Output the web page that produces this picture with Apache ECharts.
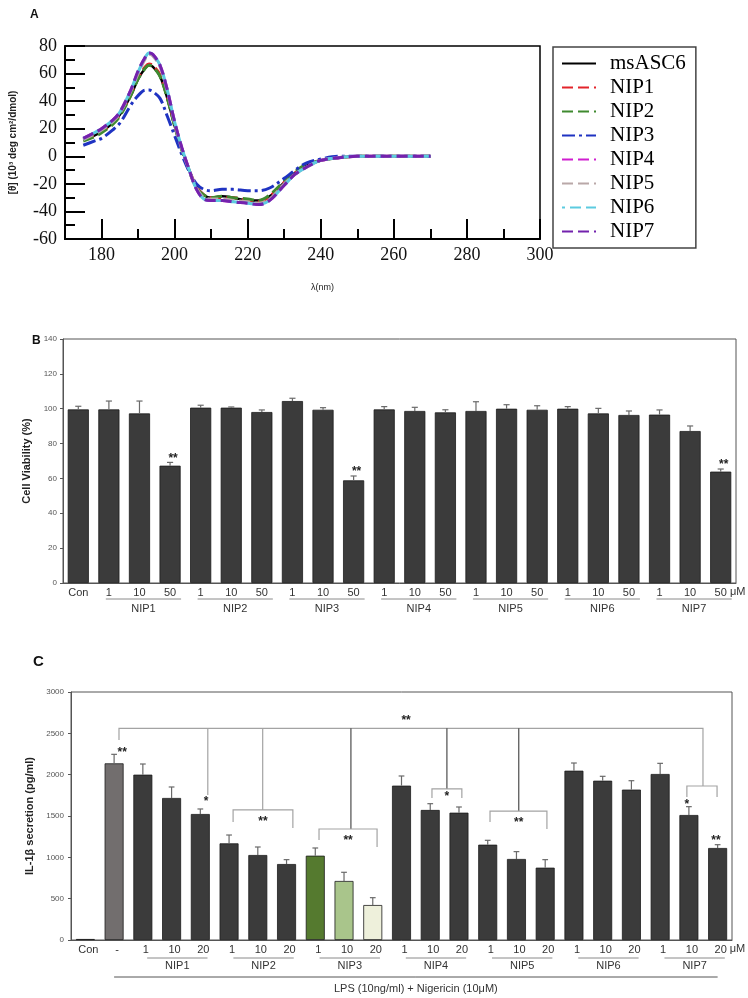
<!DOCTYPE html>
<html>
<head>
<meta charset="utf-8">
<script src="https://cdn.jsdelivr.net/npm/echarts@6/dist/echarts.min.js"></script>
<style>
html, body { margin: 0; padding: 0; background: #fff; }
#main { width: 748px; height: 998px; }
</style>
</head>
<body>
<div id="main"></div>
<script>
// ---------- A: CD spectra ----------
var cdWavelength = [175,178,180,183,185,188,190,192,193,194,196,198,200,202,204,206,208,210,213,216,220,223,226,230,233,236,240,245,250,260,270];
var cdMsASC6 = [12,15,18,24,30,44,56,64,66,65,58,42,22,5,-10,-22,-28,-30,-29,-30,-32,-32,-29,-19,-12,-7,-3,-1,0,0,0];
var cdNIP1   = [12,15,18,24,30,45,57,65,67,66,59,43,23,5,-10,-22,-28,-30,-30,-30,-32,-33,-29,-19,-12,-7,-3,-1,0,0,0];
var cdNIP2   = [11,14,17,23,29,44,56,64,66,65,58,42,22,4,-11,-23,-28,-30,-29,-30,-31,-32,-28,-18,-11,-6,-3,-1,0,0,0];
var cdNIP3   = [8,11,13,19,24,37,44,48,48,47,42,29,15,1,-11,-20,-24,-25,-24,-24,-25,-25,-23,-16,-10,-5,-2,0,0,0,0];
var cdNIP4   = [13,17,20,26,32,48,61,72,75,74,66,48,25,6,-10,-24,-31,-32,-32,-33,-34,-35,-32,-21,-13,-8,-3,-1,0,0,0];
var cdNIP5   = [12,16,19,25,31,47,60,71,74,73,65,47,24,5,-10,-23,-30,-31,-31,-32,-33,-34,-31,-20,-13,-8,-3,-1,0,0,0];
var cdNIP6   = [13,17,20,26,32,48,61,72,75,74,66,48,25,6,-10,-24,-31,-32,-32,-33,-34,-35,-32,-21,-13,-8,-3,-1,0,0,0];
var cdNIP7   = [13,17,20,26,32,48,62,72,75,74,66,48,25,6,-10,-24,-31,-32,-32,-33,-34,-35,-32,-21,-13,-8,-3,-1,0,0,0];
var cdNames  = ['msASC6','NIP1','NIP2','NIP3','NIP4','NIP5','NIP6','NIP7'];
var cdXTicks = [180,200,220,240,260,280,300];
var cdXMinor = [190,210,230,250,270,290];

// ---------- B: cell viability ----------
var cvLabels = ['Con','1','10','50','1','10','50','1','10','50','1','10','50','1','10','50','1','10','50','1','10','50'];
var cvValues = [99.6,99.6,97.3,67.3,100.6,100.6,98.1,104.4,99.4,58.9,99.6,98.7,97.9,98.7,100,99.4,100,97.3,96.4,96.6,87.2,63.9];
var cvErrors = [1.8,4.8,7.1,1.9,1.4,0.4,1.2,1.6,1.2,2.5,1.6,2.1,1.5,5.3,2.3,2.3,1.2,2.9,2.3,2.7,2.9,1.5];
var cvStars  = ['','','','**','','','','','','**','','','','','','','','','','','','**'];
var cvGroupNames = ['NIP1','NIP2','NIP3','NIP4','NIP5','NIP6','NIP7'];
var cvGroupFirst = [1,4,7,10,13,16,19];
var cvGroupLast  = [3,6,9,12,15,18,21];

// ---------- C: IL-1beta secretion ----------
var ilLabels = ['Con','-','1','10','20','1','10','20','1','10','20','1','10','20','1','10','20','1','10','20','1','10','20'];
var ilValues = [12,2137,2000,1718,1524,1169,1028,919,1020,714,423,1867,1573,1540,1153,980,875,2048,1927,1819,2008,1512,1113];
var ilErrors = [0,109,129,133,61,101,97,53,93,105,89,117,76,69,53,89,97,93,53,108,129,101,40];
var ilGroupNames = ['NIP1','NIP2','NIP3','NIP4','NIP5','NIP6','NIP7'];
var ilGroupFirst = [2,5,8,11,14,17,20];
var ilGroupLast  = [4,7,10,13,16,19,22];
var ilTreatment = 'LPS (10ng/ml) + Nigericin (10μM)';
// comparison brackets: polylines of [category position, value]
var ilBrackets = [
	[[1.17,2420],[1.17,2560],[21.49,2560],[21.49,1863]],
	[[4.26,2560],[4.26,1754]],
	[[6.17,2560],[6.17,1573]],
	[[5.14,1427],[5.14,1573],[7.22,1573],[7.22,1355]],
	[[9.24,2560],[9.24,1343]],
	[[8.13,1210],[8.13,1343],[10.15,1343],[10.15,1125]],
	[[12.58,2560],[12.58,1827]],
	[[12.06,1718],[12.06,1827],[13.1,1827],[13.1,1718]],
	[[15.08,2560],[15.08,1560]],
	[[14.08,1427],[14.08,1560],[16.06,1560],[16.06,1343]],
	[[20.93,1730],[20.93,1863],[21.98,1863],[21.98,1730]]
];
var ilBracketDark = [false,false,false,false,true,false,true,false,true,false,false];
var ilStars = [
	[1.28,2298,'**'],[4.2,1705,'*'],[6.18,1464,'**'],[9.14,1234,'**'],[11.16,2685,'**'],
	[12.58,1766,'*'],[15.08,1452,'**'],[20.93,1669,'*'],[21.94,1234,'**']
];

// colours
var cdColors = ['#000000','#e3242b','#3f8a2f','#1f33c2','#d01ed0','#b9a8a8','#5ccbe0','#7322ad'];
var barGrey = '#3b3b3b';
var ilBarColors = {1: '#726e6e', 8: '#557a2f', 9: '#a9c58b', 10: '#eef0db'};

var sans = 'Liberation Sans, Arial, sans-serif';
var serif = 'Liberation Serif, Times New Roman, serif';

var chart = echarts.init(document.getElementById('main'));

// x position inside a category band (fractional positions allowed)
function catX(api, x, y)
{
	var i = Math.floor(x);
	var p = api.coord([i, y]);
	var bw = api.size([1, 0])[0];
	return [p[0] + (x - i) * bw, p[1]];
}

function errorBars(values, errors)
{
	return function(params, api)
	{
		var i = params.dataIndex;
		if(!errors[i])
			return null;
		var a = api.coord([i, values[i]]);
		var b = api.coord([i, values[i] + errors[i]]);
		var half = api.size([1, 0])[0] * 0.1;
		var st = { stroke: '#6a6a6a', lineWidth: 1.2 };
		return { type: 'group', children: [
			{ type: 'line', shape: { x1: a[0], y1: a[1], x2: b[0], y2: b[1] }, style: st },
			{ type: 'line', shape: { x1: b[0] - half, y1: b[1], x2: b[0] + half, y2: b[1] }, style: st }
		]};
	};
}

function groupLabels(names, first, last, opt)
{
	return function(params, api)
	{
		var g = params.dataIndex;
		var bw = api.size([1, 0])[0];
		var p0 = api.coord([first[g], 0]);
		var p1 = api.coord([last[g], 0]);
		var x1 = p0[0] + opt.from * bw, x2 = p1[0] + opt.to * bw;
		var y0 = p0[1];
		var kids = [
			{ type: 'line', shape: { x1: x1, y1: y0 + opt.lineY, x2: x2, y2: y0 + opt.lineY }, style: { stroke: '#8a8a8a', lineWidth: 1 } },
			{ type: 'text', style: { x: (x1 + x2) / 2, y: y0 + opt.nameY, text: names[g], fill: '#333', font: '11px ' + sans, align: 'center', verticalAlign: 'middle' } }
		];
		if(g === names.length - 1)
			kids.push({ type: 'text', style: { x: p1[0] + opt.unitX * bw, y: y0 + opt.unitY, text: 'μM', fill: '#333', font: '11px ' + sans, align: 'left', verticalAlign: 'middle' } });
		return { type: 'group', children: kids };
	};
}

var series = [];

for(var s = 0; s < cdNames.length; s++)
{
	var vals = [cdMsASC6, cdNIP1, cdNIP2, cdNIP3, cdNIP4, cdNIP5, cdNIP6, cdNIP7][s];
	var pts = [];
	for(var k = 0; k < cdWavelength.length; k++)
		pts.push([cdWavelength[k], vals[k]]);
	var lineType = (s === 0 ? 'solid' : (s === 3 ? [13, 4, 3, 4] : [11, 5]));
	series.push({
		type: 'line', name: cdNames[s], xAxisIndex: 0, yAxisIndex: 0,
		data: pts, smooth: 0.35, symbol: 'none', silent: true,
		lineStyle: { color: cdColors[s], width: (s === 0 ? 2.5 : 3), type: lineType, dashOffset: (s === 6 ? 8 : 0) },
		itemStyle: { color: cdColors[s] },
		z: 2 + s
	});
}

// B
series.push({
	type: 'bar', xAxisIndex: 2, yAxisIndex: 1, data: cvValues, barWidth: '69%', silent: true,
	itemStyle: { color: barGrey, borderColor: '#1c1c1c', borderWidth: 0.8 }
});
series.push({
	type: 'custom', xAxisIndex: 2, yAxisIndex: 1, silent: true,
	data: cvValues.map(function(v, i) { return [i, v + cvErrors[i]]; }),
	encode: { x: 0, y: 1 }, renderItem: errorBars(cvValues, cvErrors), z: 3
});
series.push({
	type: 'custom', xAxisIndex: 2, yAxisIndex: 1, silent: true,
	data: cvValues.map(function(v, i) { return [i, v + cvErrors[i]]; }),
	encode: { x: 0, y: 1 }, z: 4,
	renderItem: function(params, api)
	{
		var i = params.dataIndex;
		if(!cvStars[i])
			return null;
		var p = api.coord([i, cvValues[i] + cvErrors[i]]);
		return { type: 'text', style: { x: p[0] + 3, y: p[1] - 4, text: cvStars[i], fill: '#222', font: 'bold 12px ' + sans, align: 'center', verticalAlign: 'middle' } };
	}
});
series.push({
	type: 'custom', xAxisIndex: 2, yAxisIndex: 1, silent: true, clip: false,
	data: cvGroupFirst.map(function(f) { return [f, 0]; }),
	encode: { x: 0, y: 1 },
	renderItem: groupLabels(cvGroupNames, cvGroupFirst, cvGroupLast, { from: -0.1, to: 0.36, lineY: 16, nameY: 26, unitX: 0.3, unitY: 9 })
});

// C
series.push({
	type: 'bar', xAxisIndex: 3, yAxisIndex: 2, barWidth: '66%', silent: true,
	data: ilValues.map(function(v, i) { return { value: v, itemStyle: { color: ilBarColors[i] || barGrey } }; }),
	itemStyle: { color: barGrey, borderColor: '#1c1c1c', borderWidth: 0.8 }
});
series.push({
	type: 'custom', xAxisIndex: 3, yAxisIndex: 2, silent: true,
	data: ilValues.map(function(v, i) { return [i, v + ilErrors[i]]; }),
	encode: { x: 0, y: 1 }, renderItem: errorBars(ilValues, ilErrors), z: 3
});
series.push({
	type: 'custom', xAxisIndex: 3, yAxisIndex: 2, silent: true, clip: false,
	data: ilBrackets.map(function(b) { return [Math.floor(b[0][0]), b[0][1]]; }),
	encode: { x: 0, y: 1 }, z: 4,
	renderItem: function(params, api)
	{
		var b = ilBrackets[params.dataIndex];
		var pts = b.map(function(p) { return catX(api, p[0], p[1]); });
		return { type: 'polyline', shape: { points: pts }, style: { stroke: ilBracketDark[params.dataIndex] ? '#4d4d4d' : '#a3a3a3', lineWidth: 1.2, fill: null } };
	}
});
series.push({
	type: 'custom', xAxisIndex: 3, yAxisIndex: 2, silent: true, clip: false,
	data: ilStars.map(function(t) { return [Math.floor(t[0]), t[1]]; }),
	encode: { x: 0, y: 1 }, z: 5,
	renderItem: function(params, api)
	{
		var t = ilStars[params.dataIndex];
		var p = catX(api, t[0], t[1]);
		return { type: 'text', style: { x: p[0], y: p[1] + 3, text: t[2], fill: '#222', font: 'bold 12px ' + sans, align: 'center', verticalAlign: 'middle' } };
	}
});
series.push({
	type: 'custom', xAxisIndex: 3, yAxisIndex: 2, silent: true, clip: false,
	data: ilGroupFirst.map(function(f) { return [f, 0]; }),
	encode: { x: 0, y: 1 },
	renderItem: function(params, api)
	{
		var el = groupLabels(ilGroupNames, ilGroupFirst, ilGroupLast, { from: 0.15, to: 0.25, lineY: 18, nameY: 26, unitX: 0.42, unitY: 9 })(params, api);
		if(params.dataIndex === 0)
		{
			var a = api.coord([1, 0]);
			var b = api.coord([ilLabels.length - 1, 0]);
			el.children.push({ type: 'line', shape: { x1: a[0], y1: a[1] + 37, x2: b[0], y2: b[1] + 37 }, style: { stroke: '#555', lineWidth: 1 } });
			el.children.push({ type: 'text', style: { x: (a[0] + b[0]) / 2, y: a[1] + 49, text: ilTreatment, fill: '#333', font: '11px ' + sans, align: 'center', verticalAlign: 'middle' } });
		}
		return el;
	}
});

var option = {
	animation: false,
	backgroundColor: '#fff',
	title: [
		{ text: 'A', left: 25, top: 4, textStyle: { fontFamily: sans, fontSize: 12, fontWeight: 'bold', color: '#111' } },
		{ text: 'B', left: 27, top: 330, textStyle: { fontFamily: sans, fontSize: 12, fontWeight: 'bold', color: '#111' } },
		{ text: 'C', left: 28, top: 649, textStyle: { fontFamily: sans, fontSize: 15, fontWeight: 'bold', color: '#111' } }
	],
	legend: {
		data: cdNames, orient: 'vertical', left: 553, top: 47,
		padding: [6, 10, 6, 8], itemGap: 3, itemWidth: 34, itemHeight: 12,
		borderColor: '#444', borderWidth: 1.5, selectedMode: false,
		itemStyle: { opacity: 0 },
		textStyle: { fontFamily: serif, fontSize: 21, color: '#000', lineHeight: 20, padding: [0, 0, 0, 9] }
	},
	grid: [
		{ left: 62, right: 208, top: 46, bottom: 759, show: true, borderColor: '#000', borderWidth: 1.5 },
		{ left: 63, right: 12, top: 339, bottom: 415, show: true, borderColor: '#555', borderWidth: 1 },
		{ left: 71, right: 16, top: 692, bottom: 58, show: true, borderColor: '#555', borderWidth: 1 }
	],
	xAxis: [
		{
			gridIndex: 0, type: 'value', min: 170, max: 300, position: 'bottom',
			name: 'λ(nm)', nameLocation: 'middle', nameGap: 44,
			nameTextStyle: { fontFamily: sans, fontSize: 9, color: '#222', padding: [0, 0, 0, 40] },
			axisLine: { onZero: false, lineStyle: { color: '#000', width: 2 } },
			axisTick: { inside: true, length: 20, customValues: cdXTicks, lineStyle: { color: '#000', width: 2 } },
			axisLabel: { customValues: cdXTicks, fontFamily: serif, fontSize: 18, color: '#111', margin: 7 },
			splitLine: { show: false }
		},
		{
			gridIndex: 0, type: 'value', min: 170, max: 300, position: 'bottom',
			axisLine: { show: false, onZero: false },
			axisTick: { inside: true, length: 10, customValues: cdXMinor, lineStyle: { color: '#000', width: 2 } },
			axisLabel: { show: false }, splitLine: { show: false }
		},
		{
			gridIndex: 1, type: 'category', data: cvLabels,
			axisLine: { lineStyle: { color: '#555', width: 1 } },
			axisTick: { show: false },
			axisLabel: { interval: 0, fontFamily: sans, fontSize: 11, color: '#333', margin: 4 }
		},
		{
			gridIndex: 2, type: 'category', data: ilLabels,
			axisLine: { lineStyle: { color: '#555', width: 1 } },
			axisTick: { show: false },
			axisLabel: { interval: 0, fontFamily: sans, fontSize: 11, color: '#333', margin: 4, padding: [0, 0, 0, 6] }
		}
	],
	yAxis: [
		{
			gridIndex: 0, type: 'value', min: -60, max: 80, interval: 20,
			name: '[θ] (10³ deg cm²/dmol)', nameLocation: 'middle', nameGap: 47, nameRotate: 90,
			nameTextStyle: { fontFamily: sans, fontSize: 10, fontWeight: 'bold', color: '#222' },
			axisLine: { onZero: false, lineStyle: { color: '#000', width: 2 } },
			axisTick: { inside: true, length: 20, lineStyle: { color: '#000', width: 2 } },
			minorTick: { show: true, splitNumber: 2, length: 10, lineStyle: { color: '#000', width: 2 } },
			axisLabel: { fontFamily: serif, fontSize: 18, color: '#111', margin: 8 },
			splitLine: { show: false }
		},
		{
			gridIndex: 1, type: 'value', min: 0, max: 140, interval: 20,
			name: 'Cell Viability (%)', nameLocation: 'middle', nameGap: 25, nameRotate: 90,
			nameTextStyle: { fontFamily: sans, fontSize: 11, fontWeight: 'bold', color: '#222' },
			axisLine: { show: true, lineStyle: { color: '#555', width: 1 } },
			axisTick: { show: true, length: 3, lineStyle: { color: '#555' } },
			axisLabel: { fontFamily: sans, fontSize: 8, color: '#555', margin: 6 },
			splitLine: { show: false }
		},
		{
			gridIndex: 2, type: 'value', min: 0, max: 3000, interval: 500,
			name: 'IL-1β secretion (pg/ml)', nameLocation: 'middle', nameGap: 36, nameRotate: 90,
			nameTextStyle: { fontFamily: sans, fontSize: 11, fontWeight: 'bold', color: '#222' },
			axisLine: { show: true, lineStyle: { color: '#555', width: 1 } },
			axisTick: { show: true, length: 3, lineStyle: { color: '#555' } },
			axisLabel: { fontFamily: sans, fontSize: 8, color: '#555', margin: 7, formatter: function(v) { return String(v); } },
			splitLine: { show: false }
		}
	],
	series: series
};

chart.setOption(option);
</script>
</body>
</html>
